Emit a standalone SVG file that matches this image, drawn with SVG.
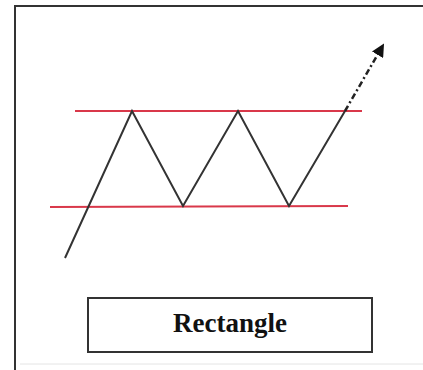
<svg xmlns="http://www.w3.org/2000/svg" width="423" height="370" viewBox="0 0 423 370">
<style>
.frame{fill:none;stroke:#333;stroke-width:2}
.band{stroke:#d9384a;stroke-width:2;fill:none}
.price{stroke:#333;stroke-width:2;fill:none;stroke-linejoin:miter}
.label{font-family:"Liberation Serif",serif;font-weight:bold;font-size:27px;fill:#111;text-anchor:middle}
</style>
<defs>
<marker id="ah" markerWidth="13" markerHeight="13" refX="9" refY="6.5" orient="auto" markerUnits="userSpaceOnUse" viewBox="0 0 13 13">
<path d="M0,0 L13,6.5 L0,13 Z" fill="#111"/>
</marker>
</defs>
<rect width="423" height="370" fill="#fff"/>
<g id="frame">
<path class="frame" d="M423,6 H15 V370"/>
<line x1="20" y1="364" x2="423" y2="364" stroke="#e4e4e4" stroke-width="1"/>
</g>
<g id="resistance"><line class="band" x1="75" y1="111" x2="362" y2="111"/></g>
<g id="support"><line class="band" x1="50" y1="207" x2="348" y2="206"/></g>
<g id="connectors">
<polyline id="price" class="price" points="65,258 132,111 183,206 238,111 289,206 345,111"/>
<line id="breakout" x1="345" y1="111" x2="382" y2="47" stroke="#222" stroke-width="2.5" stroke-dasharray="6,3,2,3" marker-end="url(#ah)"/>
</g>
<g id="label-box">
<rect x="88" y="298" width="284" height="54" fill="#fff" stroke="#333" stroke-width="2"/>
<text class="label" x="230" y="332">Rectangle</text>
</g>
</svg>
